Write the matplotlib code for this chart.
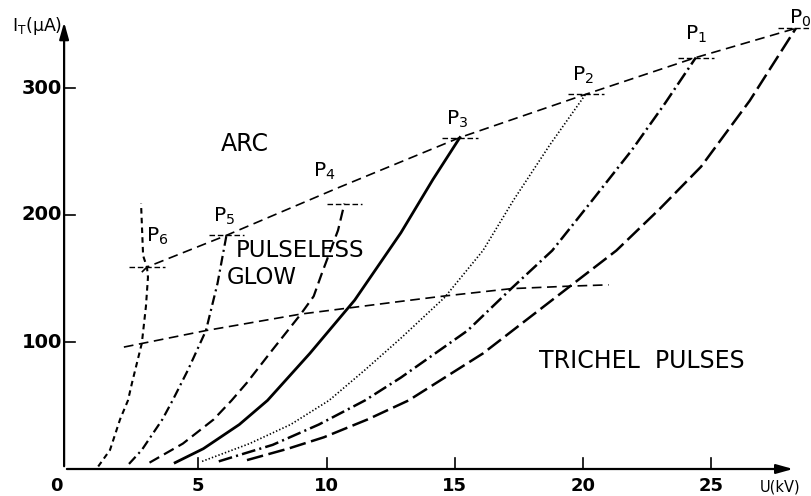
import matplotlib
matplotlib.use("Agg")
import matplotlib.pyplot as plt

plt.rcParams['font.family'] = ['DejaVu Sans']
plt.rcParams['mathtext.fontset'] = 'dejavusans'
plt.rcParams['lines.scale_dashes'] = False

# axis ticks
xticks = [5, 10, 15, 20, 25]
yticks = [100, 200, 300]

# I-U curves, one per point P0..P6  (U in kV, I in uA)
c6_u = [1.1, 1.56, 1.95, 2.26, 2.42, 2.8, 2.96, 3.04, 3.0, 2.85, 2.77]
c6_i = [2, 15, 39, 54, 68, 99, 128, 151, 159, 168, 209]
c5_u = [2.3, 2.8, 3.6, 4.0, 4.6, 5.3, 5.75, 6.1]
c5_i = [4, 15, 39, 54, 78, 109, 146, 184]
c4_u = [3.1, 4.4, 5.6, 6.3, 6.9, 7.9, 9.0, 9.5, 9.8, 10.45, 10.7]
c4_i = [5, 20, 39, 54, 68, 94, 122, 136, 153, 188, 209]
c3_u = [4.1, 5.2, 6.6, 7.7, 9.35, 11.1, 12.9, 14.15, 15.2]
c3_i = [5, 16, 35, 54, 91, 133, 186, 228, 261]
c2_u = [5.15, 7.0, 8.6, 10.1, 11.5, 12.9, 14.6, 16.1, 17.3, 18.7, 20.1]
c2_i = [6, 20, 35, 54, 78, 103, 135, 172, 212, 255, 295]
c1_u = [5.8, 6.6, 7.9, 9.7, 11.5, 12.9, 15.5, 17.2, 18.8, 20.3, 21.9, 23.2, 24.4]
c1_i = [6, 11, 19, 35, 54, 72, 109, 142, 172, 210, 251, 288, 324]
c0_u = [6.9, 8.5, 9.9, 11.6, 13.2, 16.1, 19.5, 21.3, 23.0, 24.6, 26.5, 28.3]
c0_i = [7, 16, 25, 39, 54, 91, 144, 172, 205, 238, 290, 347]

# boundary lines
arc_u = [2.8, 3.0, 6.1, 10.4, 15.2, 20.1, 24.4, 28.3]
arc_i = [155, 159, 184, 221, 261, 295, 324, 347]
low_u = [2.1, 5.3, 9.0, 12.9, 14.5, 17.2, 19.5, 21.0]
low_i = [96, 109, 122, 132, 136, 142, 144, 145]

# end points P0..P6
p_names = ['0', '1', '2', '3', '4', '5', '6']
p_u = [28.3, 24.4, 20.1, 15.2, 10.7, 6.1, 3.0]
p_i = [347, 324, 295, 261, 209, 184, 159]
plab_u = [28.45, 24.4, 20.0, 15.1, 9.9, 6.0, 3.4]
plab_i = [355, 342, 310, 275, 234, 199, 183]

fig = plt.figure(figsize=(8.11, 4.96), dpi=100)
ax = fig.add_axes([0, 0, 1, 1])
ax.set_xlim(-70 / 25.65, 741 / 25.65)
ax.set_ylim(-27 / 1.27, 469 / 1.27)
ax.axis('off')

k = 'black'
x0 = -0.23
# axes with arrows
ax.annotate('', xy=(x0, 354), xytext=(x0, 0),
            arrowprops=dict(arrowstyle='-|>,head_length=1.0,head_width=0.28', color=k, lw=1.6))
ax.annotate('', xy=(28.3, 0), xytext=(x0, 0),
            arrowprops=dict(arrowstyle='-|>,head_length=1.0,head_width=0.28', color=k, lw=1.6))
for t in xticks:
    ax.plot([t, t], [0, 8.5], color=k, lw=1.2)
    ax.text(t, -13.4, str(t), ha='center', va='center', fontsize=13, fontweight='bold')
for t in yticks:
    ax.plot([x0, 0.2], [t, t], color=k, lw=1.2)
    ax.text(-0.31, t, str(t), ha='right', va='center', fontsize=14, fontweight='bold')
ax.text(-0.55, -13.4, '0', ha='center', va='center', fontsize=13, fontweight='bold')
ax.text(-0.3, 349, r'I$_\mathregular{T}$(μA)', ha='right', va='center', fontsize=12.5)
ax.text(27.7, -14, 'U(kV)', ha='center', va='center', fontsize=10.5)

# curves
ax.plot(c6_u, c6_i, color=k, lw=1.5, dashes=(4, 3))
ax.plot(c5_u, c5_i, color=k, lw=1.6, dashes=(7, 3, 1.5, 3))
ax.plot(c4_u, c4_i, color=k, lw=1.6, dashes=(8, 4))
ax.plot(c3_u, c3_i, color=k, lw=2.0)
ax.plot(c2_u, c2_i, color=k, lw=1.2, dashes=(1, 1.5))
ax.plot(c1_u, c1_i, color=k, lw=1.8, dashes=(10, 3, 1.5, 3))
ax.plot(c0_u, c0_i, color=k, lw=1.8, dashes=(12, 4))
ax.plot(arc_u, arc_i, color=k, lw=1.2, dashes=(7, 4))
ax.plot(low_u, low_i, color=k, lw=1.2, dashes=(7, 4))

# marks and labels at the P points
for name, u, i, lu, li in zip(p_names, p_u, p_i, plab_u, plab_i):
    ax.plot([u - 0.7, u + 0.7], [i, i], color=k, lw=1.0, dashes=(4, 2))
    ax.text(lu, li, r'P$_\mathregular{' + name + '}$', ha='center', va='center', fontsize=14.5)

ax.text(6.8, 256, 'ARC', ha='center', va='center', fontsize=17)
ax.text(6.45, 172, 'PULSELESS', ha='left', va='center', fontsize=16.5)
ax.text(6.1, 151, 'GLOW', ha='left', va='center', fontsize=16.5)
ax.text(22.3, 85, 'TRICHEL  PULSES', ha='center', va='center', fontsize=17)

fig.savefig('out.png', dpi=100)
